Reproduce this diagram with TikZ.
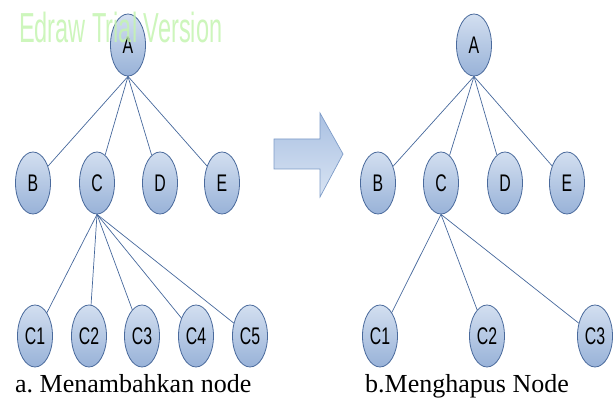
\documentclass[tikz,border=0pt]{standalone}
\usepackage{fontspec}
\setmainfont{Liberation Serif}
\newfontfamily\nodefont[FakeStretch=0.66]{Liberation Sans}
\newfontfamily\wmfont[FakeStretch=0.56]{Liberation Sans}
\usetikzlibrary{shapes.geometric}
\definecolor{edgeblue}{HTML}{46689C}
\definecolor{nodetop}{HTML}{D3DFF0}
\definecolor{nodebot}{HTML}{98B2D8}
\definecolor{nodeline}{HTML}{4A6A9C}
\definecolor{arrowtop}{HTML}{A9C0E2}
\definecolor{arrowbot}{HTML}{D9E4F3}
\definecolor{arrowline}{HTML}{7E9CC8}
\definecolor{wmgreen}{HTML}{C4F4B0}
\frenchspacing
\tikzset{
  treenode/.style={ellipse, draw=nodeline, line width=0.8pt, top color=nodetop, bottom color=nodebot,
    minimum width=35pt, minimum height=62pt, inner sep=0pt, font=\nodefont\fontsize{24}{24}\selectfont},
  link/.style={draw=edgeblue, line width=0.7pt},
  caption/.style={anchor=base west, inner sep=0pt, font=\fontsize{26}{26}\selectfont}
}
\begin{document}
\begin{tikzpicture}[x=1pt,y=-1pt]
\useasboundingbox (0,0) rectangle (615,398);
% left tree
\node[treenode] (A) at (128,45) {A};
\node[treenode] (B) at (33,183) {B};
\node[treenode] (C) at (97,183) {C};
\node[treenode] (D) at (160,183) {D};
\node[treenode] (E) at (222,183) {E};
\node[treenode] (C1) at (35,336) {C1};
\node[treenode] (C2) at (89,336) {C2};
\node[treenode] (C3) at (142,336) {C3};
\node[treenode] (C4) at (196,336) {C4};
\node[treenode] (C5) at (250,336) {C5};
\foreach \n in {B,C,D,E} \draw[link] (A.south) -- (\n);
\foreach \n in {C1,C2,C3,C4,C5} \draw[link] (C.south) -- (\n);
% right tree
\node[treenode] (rA) at (474,45) {A};
\node[treenode] (rB) at (378,183) {B};
\node[treenode] (rC) at (441,183) {C};
\node[treenode] (rD) at (505,183) {D};
\node[treenode] (rE) at (567,183) {E};
\node[treenode] (rC1) at (380,336) {C1};
\node[treenode] (rC2) at (487,336) {C2};
\node[treenode] (rC3) at (595,336) {C3};
\foreach \n in {rB,rC,rD,rE} \draw[link] (rA.south) -- (\n);
\foreach \n in {rC1,rC2,rC3} \draw[link] (rC.south) -- (\n);
% arrow
\draw[draw=arrowline, line width=0.7pt, top color=arrowtop, bottom color=arrowbot]
  (274,139) -- (320,139) -- (320,113) -- (343,154) -- (320,197) -- (320,169) -- (274,169) -- cycle;
% captions
\node[caption] (capa) at (15,392) {a. Menambahkan node};
\node[caption] (capb) at (365,392) {b.Menghapus Node};
% watermark
\node[anchor=base west, inner sep=0pt, text=wmgreen, opacity=0.85, font=\wmfont\fontsize{42}{42}\selectfont] (wm) at (19,43) {Edraw Trial Version};
\end{tikzpicture}
\end{document}
